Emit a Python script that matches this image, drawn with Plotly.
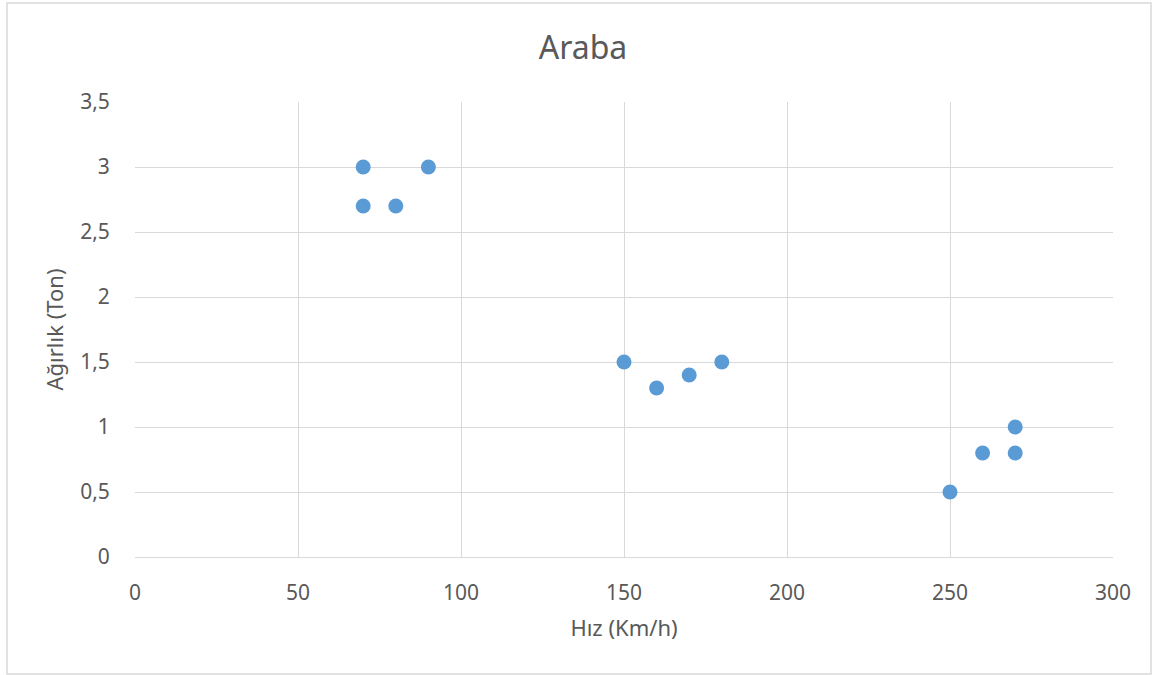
import plotly.graph_objects as go

speed = [70, 70, 80, 90, 150, 160, 170, 180, 250, 260, 270, 270]
weight = [3.0, 2.7, 2.7, 3.0, 1.5, 1.3, 1.4, 1.5, 0.5, 0.8, 0.8, 1.0]

x_ticks = [0, 50, 100, 150, 200, 250, 300]
y_ticks = [0, 0.5, 1, 1.5, 2, 2.5, 3, 3.5]
y_labels = ["0", "0,5", "1", "1,5", "2", "2,5", "3", "3,5"]

font = "Noto Sans"
grey = "#595959"
grid = "#D9D9D9"

fig = go.Figure(go.Scatter(
    x=speed, y=weight, mode="markers",
    marker=dict(size=15, color="#5B9BD5", line=dict(width=0)),
))

L, R, T, B = 135, 1113, 102, 557
W, H = 1152, 675
pw, ph = R - L, B - T

fig.update_layout(
    width=W, height=H,
    margin=dict(l=L, r=W - R, t=T, b=H - B),
    paper_bgcolor="white", plot_bgcolor="white",
    showlegend=False,
    title=dict(text="Araba", x=(583 - L) / pw, xref="paper", xanchor="center",
               y=1 - 48 / H, yanchor="middle",
               font=dict(family=font, size=32, color=grey)),
    xaxis=dict(range=[0, 300], tickvals=x_ticks, showgrid=True, gridcolor=grid, gridwidth=1.3,
               zeroline=False, showline=True, linecolor=grid, linewidth=1.3, mirror=False,
               ticks="outside", ticklen=17, tickcolor="rgba(0,0,0,0)",
               tickfont=dict(family=font, size=21, color=grey),
               title=dict(text="Hız (Km/h)", font=dict(family=font, size=22, color=grey), standoff=15)),
    yaxis=dict(range=[0, 3.5], tickvals=y_ticks, ticktext=y_labels, showgrid=True, gridcolor=grid,
               gridwidth=1.3, zeroline=False, showline=False,
               ticks="outside", ticklen=20, tickcolor="rgba(0,0,0,0)",
               tickfont=dict(family=font, size=21, color=grey),
               title=dict(text="Ağırlık (Ton)", font=dict(family=font, size=22, color=grey), standoff=10)),
    shapes=[dict(type="rect", xref="paper", yref="paper",
                 x0=(7 - L) / pw, x1=(1151 - L) / pw,
                 y0=(B - 674) / ph, y1=(B - 3) / ph,
                 line=dict(color=grid, width=1.5), layer="below")],
)

fig.write_html("out.html")
